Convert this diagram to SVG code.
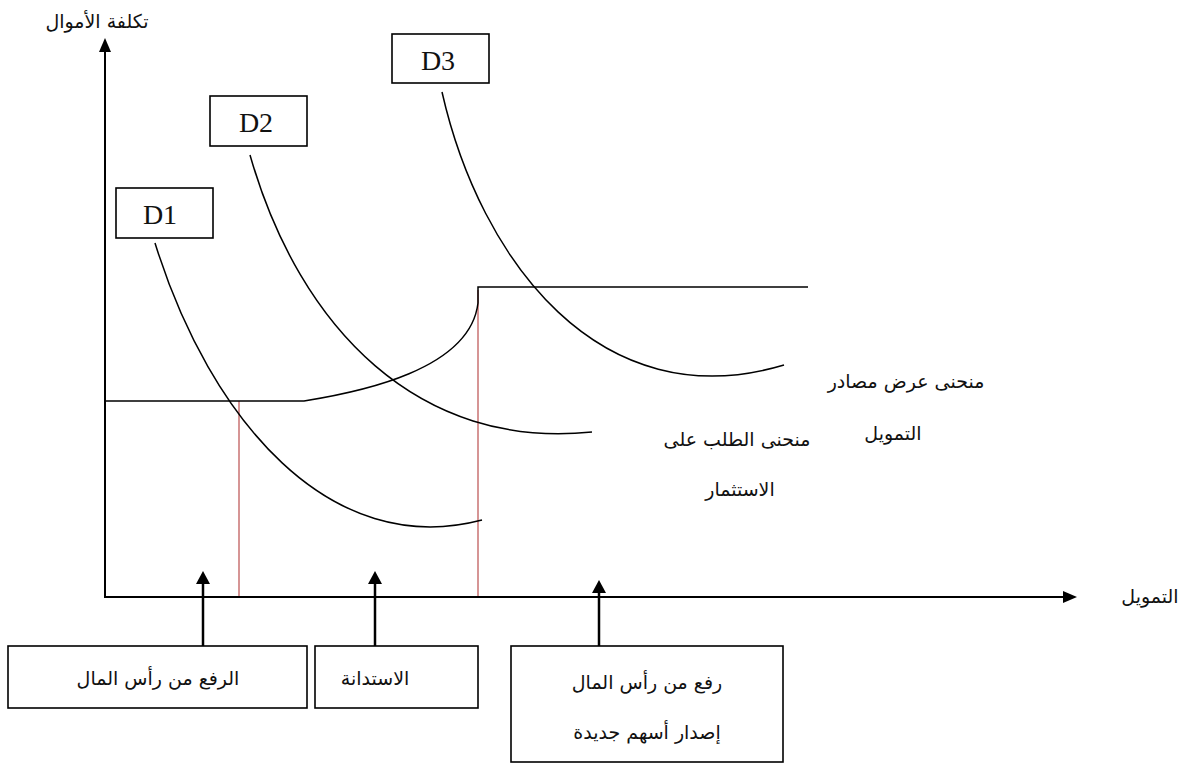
<svg xmlns="http://www.w3.org/2000/svg" width="1190" height="764" viewBox="0 0 1190 764">
<style>
.ax{stroke:#000;stroke-width:2;fill:none}
.cv{stroke:#000;stroke-width:1.5;fill:none}
.red{stroke:#c97272;stroke-width:1.5;fill:none}
.box{fill:#fff;stroke:#000;stroke-width:1.6}
.ar{font-family:"DejaVu Sans",sans-serif;font-size:19px;fill:#111;text-anchor:middle}
.d{font-family:"Liberation Serif",serif;font-size:28px;fill:#111;text-anchor:middle}
.up{stroke:#000;stroke-width:2.5;fill:none}
</style>
<rect width="1190" height="764" fill="#fff"/>
<g id="connectors">
<path class="red" d="M239,401 L239,597"/>
<path class="red" d="M478,290 L478,597"/>
<path class="cv" d="M104,401 L304,401 C360,392 470,370 478,303 L478,287 L808,287"/>
<path class="cv" d="M155,243 C210,420 330,560 482,520"/>
<path class="cv" d="M250,155 C300,330 420,450 592,432"/>
<path class="cv" d="M442,92 C480,260 600,420 784,365"/>
<line class="ax" x1="105" y1="598" x2="105" y2="50"/>
<polygon points="105,38 99,52 111,52" fill="#000"/>
<line class="ax" x1="104" y1="597" x2="1064" y2="597"/>
<polygon points="1077,597 1063,591 1063,603" fill="#000"/>
<line class="up" x1="203" y1="646" x2="203" y2="582"/>
<polygon points="203,571 196,584 210,584" fill="#000"/>
<line class="up" x1="375" y1="646" x2="375" y2="582"/>
<polygon points="375,571 368,584 382,584" fill="#000"/>
<line class="up" x1="599" y1="646" x2="599" y2="590"/>
<polygon points="599,580 592,593 606,593" fill="#000"/>
</g>
<g id="y-label"><text class="ar" x="97" y="28">تكلفة الأموال</text></g>
<g id="x-label"><text class="ar" x="1150" y="603">التمويل</text></g>
<g id="D1"><rect class="box" x="116" y="188" width="97" height="50"/><text class="d" x="160" y="224">D1</text></g>
<g id="D2"><rect class="box" x="210" y="96" width="97" height="50"/><text class="d" x="256" y="132">D2</text></g>
<g id="D3"><rect class="box" x="392" y="34" width="97" height="49"/><text class="d" x="438" y="70">D3</text></g>
<g id="supply-label"><text class="ar" x="906" y="388">منحنى عرض مصادر</text><text class="ar" x="893" y="440">التمويل</text></g>
<g id="demand-label"><text class="ar" x="737" y="446">منحنى الطلب على</text><text class="ar" x="740" y="496">الاستثمار</text></g>
<g id="box-equity"><rect class="box" x="8" y="646" width="299" height="62"/><text class="ar" x="158" y="685">الرفع من رأس المال</text></g>
<g id="box-debt"><rect class="box" x="315" y="646" width="163" height="62"/><text class="ar" x="375" y="685">الاستدانة</text></g>
<g id="box-new-shares"><rect class="box" x="511" y="646" width="272" height="116"/><text class="ar" x="647" y="689">رفع من رأس المال</text><text class="ar" x="647" y="739">إصدار أسهم جديدة</text></g>
</svg>
